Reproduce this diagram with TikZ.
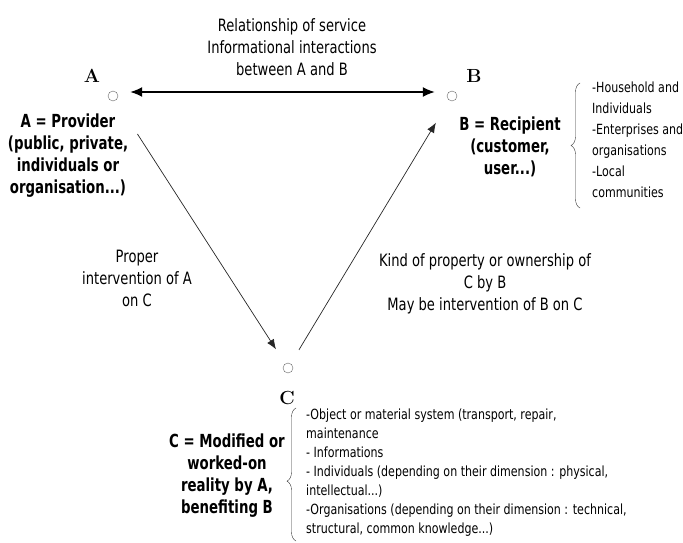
\documentclass[tikz,border=0pt]{standalone}
\usepackage{fontspec}
\newfontfamily\mediumfont[FakeStretch=0.77]{DejaVu Sans}
\newfontfamily\boldfont[FakeStretch=0.74]{DejaVu Sans}
\newfontfamily\smallfont[FakeStretch=0.79]{DejaVu Sans}
\usetikzlibrary{arrows.meta,decorations.pathreplacing,positioning}

\begin{document}
\begin{tikzpicture}[x=1pt,y=-1pt,
    point/.style={circle,draw=black!60,fill=white,inner sep=0pt,minimum size=10pt},
    letter/.style={font=\fontsize{19}{19}\selectfont\bfseries},
    comment/.style={align=center,font=\mediumfont\fontsize{17}{22}\selectfont},
    role/.style={align=center,font=\boldfont\bfseries\fontsize{18}{22}\selectfont},
    detail/.style={align=left,anchor=west,inner sep=0pt,font=\smallfont\fontsize{14}{21}\selectfont},
    link/.style={-{Latex[length=10pt,width=8pt]},line width=0.7pt,black!85},
    curly/.style={decorate,decoration={brace,amplitude=9pt},thin,black!80}]
\useasboundingbox (0,0) rectangle (683,543);

% the three poles
\node[point] (pA) at (113,96) {};
\node[point] (pB) at (452,96) {};
\node[point] (pC) at (288,368) {};
\node[letter] (lA) at (92,76) {A};
\node[letter] (lB) at (474,76) {B};
\node[letter] (lC) at (287,398) {C};

% relations
\draw[{Latex[length=12pt,width=10pt]}-{Latex[length=12pt,width=10pt]},line width=1.6pt,shorten <=12pt,shorten >=12pt]
    ([yshift=4pt]pA.east) -- ([yshift=4pt]pB.west);
\draw[link,shorten <=40pt,shorten >=17pt] (pA) -- (pC);
\draw[link,shorten <=16pt,shorten >=26pt] (pC) -- (pB);

\node[comment] (service) at (292,47) {Relationship of service\\Informational interactions\\between A and B};
\node[comment] (proper) at (137,278) {Proper\\intervention of A\\on C};
\node[comment] (ownership) at (485,284) {Kind of property or ownership of\\C by B\\May be intervention of B on C};

% roles
\node[role] (provider) at (68,156) {A = Provider\\(public, private,\\individuals or\\organisation...)};
\node[role] (recipient) at (510,147) {B = Recipient\\(customer,\\user...)};
\node[role] (reality) at (227,476) {C = Modified or\\worked-on\\reality by A,\\benefiting B};

% details
\node[detail] (kinds) at (592,140) {-Household and\\Individuals\\-Enterprises and\\organisations\\-Local\\communities};
\draw[curly] (580,208) -- (580,83);
\node[detail,font=\smallfont\fontsize{14}{19}\selectfont] (realities) at (306,473) {-Object or material system (transport, repair,\\maintenance\\- Informations\\- Individuals (depending on their dimension : physical,\\intellectual...)\\-Organisations (depending on their dimension : technical,\\structural, common knowledge...)};
\draw[curly,decoration={brace,amplitude=9pt,aspect=0.45}] (296,541) -- (296,408);
\end{tikzpicture}
\end{document}
